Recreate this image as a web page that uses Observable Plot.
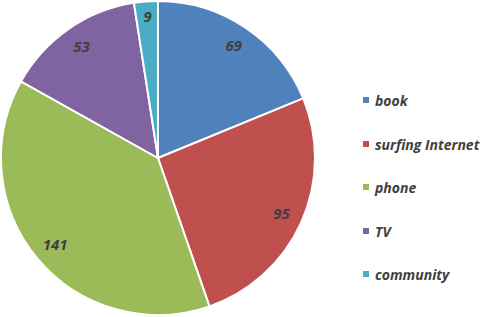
<!DOCTYPE html>
<html><head><meta charset="utf-8">
<script src="https://cdn.jsdelivr.net/npm/d3@7"></script>
<script src="https://cdn.jsdelivr.net/npm/@observablehq/plot@0.6"></script>
<style>
body{margin:0;background:#fff;}
#wrap{position:relative;width:484px;height:317px;}
#legend{position:absolute;left:363px;top:0;font-family:"Open Sans",sans-serif;font-weight:bold;font-style:italic;font-size:14px;color:#404040;}
#legend div{position:absolute;white-space:nowrap;display:flex;align-items:center;}
#legend span.sw{display:inline-block;width:6px;height:6px;margin-right:6px;}
</style></head>
<body><div id="wrap"><div id="chart"></div><div id="legend"></div></div>
<script>
const categories = ["book", "surfing Internet", "phone", "TV", "community"];
const values = [69, 95, 141, 53, 9];
const colors = ["#4F81BD", "#C0504D", "#9BBB59", "#8064A2", "#4BACC6"];

const data = categories.map((c, i) => ({category: c, value: values[i]}));
const arcs = d3.pie().sort(null).value(d => d.value)(data);
const labelR = 0.86;
const labels = arcs.map(a => {
  const m = (a.startAngle + a.endAngle) / 2;
  const r = a.data.value < 20 ? 0.9 : labelR;
  return {label: String(a.data.value), x: r * Math.sin(m), y: r * Math.cos(m)};
});

function pieMark(index, scales, values, dimensions, context) {
  const cx = scales.x(0), cy = scales.y(0);
  const R = scales.x(1) - scales.x(0);
  const arc = d3.arc().innerRadius(0).outerRadius(R);
  const g = d3.create("svg:g").attr("transform", `translate(${cx},${cy})`);
  g.selectAll("path").data(arcs).join("path")
    .attr("d", arc)
    .attr("fill", d => scales.color(d.data.category))
    .attr("stroke", "#fff")
    .attr("stroke-width", 2)
    .attr("stroke-linejoin", "round");
  return g.node();
}

const plot = Plot.plot({
  width: 484, height: 317,
  margin: 0,
  x: {domain: [-1, 1], range: [1, 315], axis: null},
  y: {domain: [-1, 1], range: [315, 1], axis: null},
  color: {domain: categories, range: colors},
  marks: [
    pieMark,
    Plot.text(labels, {x: "x", y: "y", text: "label", fill: "#404040",
      fontFamily: "Open Sans", fontWeight: "bold", fontStyle: "italic", fontSize: 15})
  ]
});
document.getElementById("chart").appendChild(plot);

const leg = document.getElementById("legend");
const legTops = [100, 144, 187, 231, 274];
categories.forEach((c, i) => {
  const d = document.createElement("div");
  d.style.top = (legTops[i] - 10) + "px";
  d.style.height = "20px";
  d.innerHTML = `<span class="sw" style="background:${colors[i]}"></span>${c}`;
  leg.appendChild(d);
});
</script></body></html>
